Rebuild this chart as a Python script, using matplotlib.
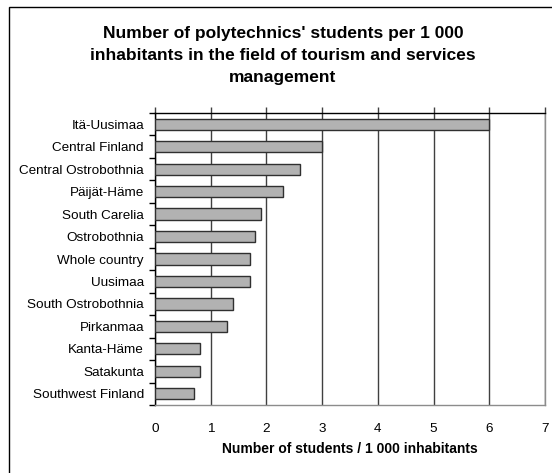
import matplotlib
matplotlib.use('Agg')
import matplotlib.pyplot as plt
from matplotlib.patches import Rectangle
import numpy as np

plt.rcParams['font.family'] = ['Liberation Sans', 'DejaVu Sans']

regions = ['Itä-Uusimaa', 'Central Finland', 'Central Ostrobothnia', 'Päijät-Häme',
           'South Carelia', 'Ostrobothnia', 'Whole country', 'Uusimaa',
           'South Ostrobothnia', 'Pirkanmaa', 'Kanta-Häme', 'Satakunta',
           'Southwest Finland']
students = [6.0, 3.0, 2.6, 2.3, 1.9, 1.8, 1.7, 1.7, 1.4, 1.3, 0.8, 0.8, 0.7]
x_ticks = [0, 1, 2, 3, 4, 5, 6, 7]
title_lines = ["Number of polytechnics' students per 1 000",
               "inhabitants in the field of tourism and services",
               "management"]

W, H = 552, 473
fig = plt.figure(figsize=(W / 100, H / 100), dpi=100)

# outer chart frame (only left/top edges are inside the picture)
fig.patches.append(Rectangle((9 / W, -0.1), 1.2, (H - 7) / H + 0.1,
                             transform=fig.transFigure, fill=False,
                             edgecolor='black', linewidth=1.0))

ax = fig.add_axes([155 / W, 1 - 405 / H, (545 - 155) / W, (405 - 113) / H])

y = np.arange(len(regions))
ax.barh(y, students, height=0.5, color='#b2b2b2', edgecolor='#303030',
        linewidth=1.0, zorder=3)

ax.set_xlim(0, 7)
ax.set_ylim(len(regions) - 0.5, -0.5)

ax.set_xticks(x_ticks)
ax.set_xticklabels([str(t) for t in x_ticks], fontsize=9.7)
ax.xaxis.grid(True, color='#404040', linewidth=1.0, zorder=0)
ax.tick_params(axis='x', bottom=False, top=True, labelbottom=True, labeltop=False,
               direction='out', length=4, width=1, color='#404040', pad=9)

ax.set_yticks(y)
ax.set_yticklabels(regions, fontsize=9.7)
ax.set_yticks(np.arange(len(regions) + 1) - 0.5, minor=True)
ax.tick_params(axis='y', which='major', length=0, pad=8)
ax.tick_params(axis='y', which='minor', direction='out', length=4, width=1, color='black')

ax.spines['left'].set_color('black')
ax.spines['top'].set_color('black')
ax.spines['bottom'].set_color('#8c8c8c')
ax.spines['right'].set_color('#8c8c8c')
for s in ax.spines.values():
    s.set_linewidth(1.0)

ax.set_xlabel('Number of students / 1 000 inhabitants', fontsize=10,
              fontweight='bold', labelpad=5)

for line, base in zip(title_lines, [38, 59.5, 81.5]):
    fig.text(283 / W, 1 - base / H, line, ha='center', va='baseline',
             fontsize=12.5, fontweight='bold')

fig.savefig('out.png', dpi=100)
